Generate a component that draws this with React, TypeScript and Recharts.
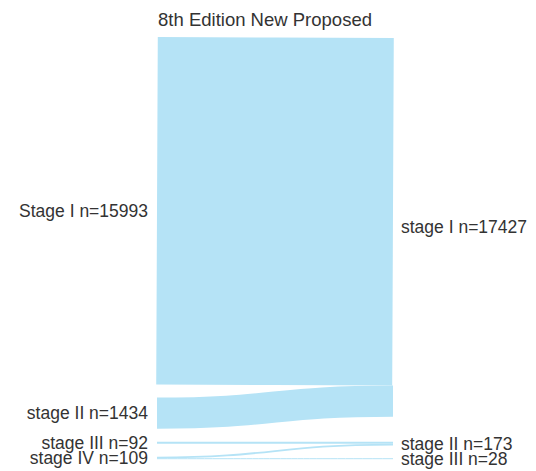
import { Sankey } from 'recharts';

const nodeNames = [
  'Stage I n=15993',
  'stage II n=1434',
  'stage III n=92',
  'stage IV n=109',
  'stage I n=17427',
  'stage II n=173',
  'stage III n=28',
];

const linkSources = [0, 1, 2, 3, 3];
const linkTargets = [4, 4, 5, 5, 6];
const linkValues = [15993, 1434, 92, 81, 28];

const LINK_COLOR = '#b5e3f6';
const TEXT_COLOR = '#333333';
const FONT = '"Liberation Sans", Arial, Helvetica, sans-serif';

const data = {
  nodes: nodeNames.map((name) => ({ name })),
  links: linkValues.map((value, i) => ({
    source: linkSources[i],
    target: linkTargets[i],
    value,
  })),
};

function LinkShape(props: any) {
  const { sourceX, targetX, sourceY, targetY, sourceControlX, targetControlX, linkWidth } = props;
  return (
    <path
      d={`M${sourceX},${sourceY} C${sourceControlX},${sourceY} ${targetControlX},${targetY} ${targetX},${targetY}`}
      fill="none"
      stroke={LINK_COLOR}
      strokeWidth={Math.max(linkWidth, 1)}
    />
  );
}

function NodeShape(props: any) {
  const { x, y, width, height, payload } = props;
  const left = payload.depth === 0;
  return (
    <text
      x={left ? x - 8 : x + width + 7}
      y={y + height / 2}
      textAnchor={left ? 'end' : 'start'}
      dominantBaseline="central"
      fontSize={17.5}
      fontFamily={FONT}
      fill={TEXT_COLOR}
    >
      {payload.name}
    </text>
  );
}

export default function App() {
  return (
    <div style={{ position: 'relative', width: 520, height: 463 }}>
      <div
        style={{
          position: 'absolute',
          top: 2,
          left: 0,
          width: 514,
          textAlign: 'center',
          fontFamily: FONT,
          fontSize: 18.5,
          lineHeight: '20px',
          color: TEXT_COLOR,
        }}
      >
        8th Edition New Proposed
      </div>
      <Sankey
        width={520}
        height={463}
        data={data}
        nodeWidth={1}
        nodePadding={13}
        margin={{ top: 29, right: 134, bottom: 12, left: 148 }}
        link={<LinkShape />}
        node={<NodeShape />}
      />
    </div>
  );
}
